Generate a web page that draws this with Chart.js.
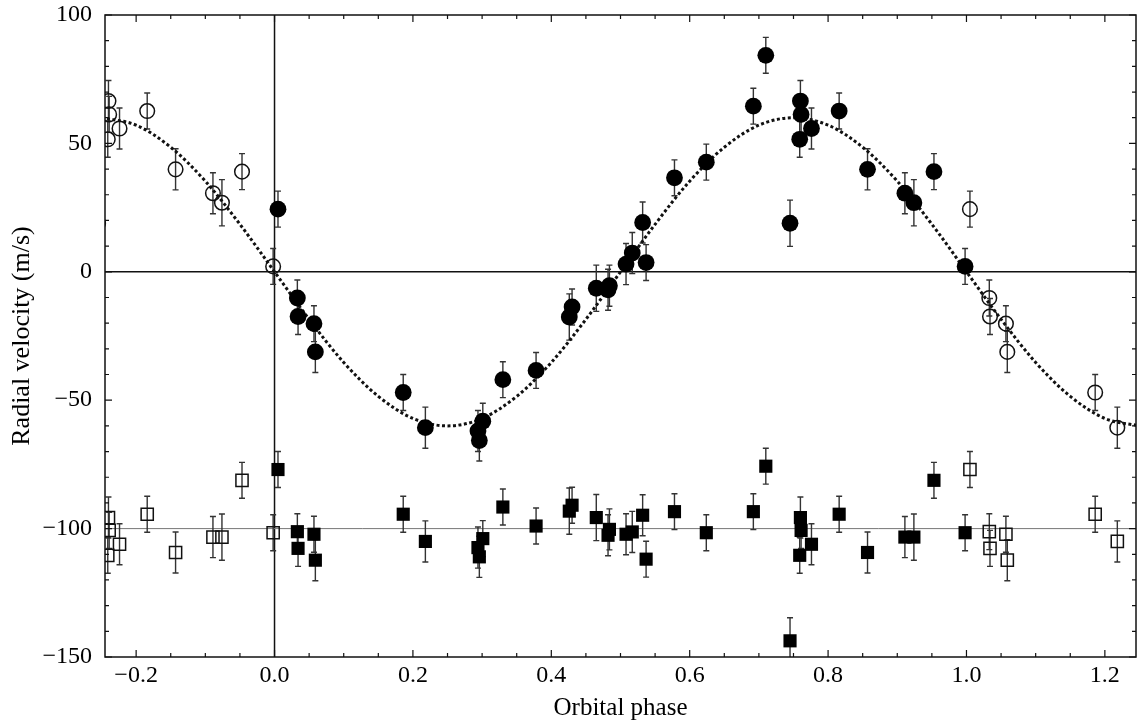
<!DOCTYPE html>
<html><head><meta charset="utf-8">
<script src="https://cdn.jsdelivr.net/npm/chart.js@4/dist/chart.umd.min.js"></script>
<style>html,body{margin:0;padding:0;background:#fff;}</style>
</head><body>
<canvas id="c" width="1139" height="724"></canvas>
<script>
// ---- data ----
const phaseFilled = [0.005, 0.033, 0.034, 0.057, 0.059, 0.186, 0.218, 0.294, 0.296, 0.301, 0.330, 0.378, 0.426, 0.430, 0.465, 0.482, 0.484, 0.508, 0.517, 0.532, 0.537, 0.578, 0.624, 0.692, 0.710, 0.745, 0.759, 0.760, 0.761, 0.776, 0.816, 0.857, 0.911, 0.924, 0.953, 0.998];
const rvFilled = [24.4, -10.2, -17.4, -20.2, -31.2, -47.0, -60.7, -62.0, -65.7, -58.2, -42.0, -38.4, -17.6, -13.7, -6.4, -7.0, -5.4, 3.0, 7.3, 19.2, 3.6, 36.6, 42.7, 64.5, 84.3, 18.9, 51.6, 66.5, 61.3, 55.8, 62.6, 39.9, 30.6, 26.9, 39.0, 2.1];
const errFilled = [7, 7, 7, 7, 8, 7, 8, 8, 8, 7, 7, 7, 9, 7, 9, 8, 8, 8, 8, 8, 7, 7, 7, 7, 7, 9, 7, 8, 7, 8, 7, 8, 8, 9, 7, 7];
const resFilled = [-77.0, -101.2, -107.7, -102.2, -112.3, -94.4, -105.0, -107.4, -111.0, -103.9, -91.6, -99.0, -93.2, -90.9, -95.7, -102.6, -100.3, -102.2, -101.3, -94.8, -111.9, -93.4, -101.6, -93.4, -75.7, -143.7, -110.4, -95.7, -100.7, -106.1, -94.4, -109.3, -103.3, -103.3, -81.2, -101.6];

const phaseOpen = [-0.255, -0.241, -0.240, -0.239, -0.224, -0.184, -0.143, -0.089, -0.076, -0.047, -0.002, 1.005, 1.033, 1.034, 1.057, 1.059, 1.186, 1.218];
const rvOpen = [18.9, 51.6, 66.5, 61.3, 55.8, 62.6, 39.9, 30.6, 26.9, 39.0, 2.1, 24.4, -10.2, -17.4, -20.2, -31.2, -47.0, -60.7];
const errOpen = [9, 7, 8, 7, 8, 7, 8, 8, 9, 7, 7, 7, 7, 7, 7, 8, 7, 8];
const resOpen = [-143.7, -110.4, -95.7, -100.7, -106.1, -94.4, -109.3, -103.3, -103.3, -81.2, -101.6, -77.0, -101.2, -107.7, -102.2, -112.3, -94.4, -105.0];

const fitPhase = [-0.25, -0.2, -0.15, -0.1, -0.05, 0, 0.05, 0.1, 0.15, 0.2, 0.25, 0.3, 0.35, 0.4, 0.45, 0.5, 0.55, 0.6, 0.65, 0.7, 0.75, 0.8, 0.85, 0.9, 0.95, 1.0, 1.05, 1.1, 1.15, 1.2, 1.25];
const fitRV = [60, 57.1, 48.5, 35.3, 18.5, 0, -18.5, -35.3, -48.5, -57.1, -60, -57.1, -48.5, -35.3, -18.5, 0, 18.5, 35.3, 48.5, 57.1, 60, 57.1, 48.5, 35.3, 18.5, 0, -18.5, -35.3, -48.5, -57.1, -60];

const xTicks = [-0.2, 0, 0.2, 0.4, 0.6, 0.8, 1.0, 1.2];
const xTickLabels = ["\u22120.2", "0.0", "0.2", "0.4", "0.6", "0.8", "1.0", "1.2"];
const yTicks = [-150, -100, -50, 0, 50, 100];
const yTickLabels = ["\u2212150", "\u2212100", "\u221250", "0", "50", "100"];
const refLevels = [0, -100];

// ---- helpers ----
const pts = (xs, ys) => xs.map((v, i) => ({x: v, y: ys[i]}));
const FAM = "'Liberation Serif', 'DejaVu Serif', serif";
const FONT = {family: FAM, size: 24};

const errSets = [
  {xs: phaseFilled, ys: rvFilled, es: errFilled},
  {xs: phaseFilled, ys: resFilled, es: errFilled},
  {xs: phaseOpen, ys: rvOpen, es: errOpen},
  {xs: phaseOpen, ys: resOpen, es: errOpen}
];

const decor = {
  id: 'decor',
  beforeDatasetsDraw(chart) {
    const {ctx, chartArea: a, scales: {x, y}} = chart;
    ctx.save();
    ctx.beginPath();
    ctx.rect(a.left, a.top, a.right - a.left, a.bottom - a.top);
    ctx.clip();
    const x0 = x.getPixelForValue(0);
    ctx.strokeStyle = '#111'; ctx.lineWidth = 1.5;
    ctx.beginPath(); ctx.moveTo(x0, a.top); ctx.lineTo(x0, a.bottom); ctx.stroke();
    const y0 = y.getPixelForValue(refLevels[0]);
    ctx.beginPath(); ctx.moveTo(a.left, y0); ctx.lineTo(a.right, y0); ctx.stroke();
    const y1 = y.getPixelForValue(refLevels[1]);
    ctx.strokeStyle = '#777'; ctx.lineWidth = 1;
    ctx.beginPath(); ctx.moveTo(a.left, y1); ctx.lineTo(a.right, y1); ctx.stroke();
    ctx.strokeStyle = '#333'; ctx.lineWidth = 1.4;
    errSets.forEach(s => {
      s.xs.forEach((xv, i) => {
        const px = x.getPixelForValue(xv);
        const pt = y.getPixelForValue(s.ys[i] + s.es[i]);
        const pb = y.getPixelForValue(s.ys[i] - s.es[i]);
        ctx.beginPath();
        ctx.moveTo(px, pt); ctx.lineTo(px, pb);
        ctx.moveTo(px - 3, pt); ctx.lineTo(px + 3, pt);
        ctx.moveTo(px - 3, pb); ctx.lineTo(px + 3, pb);
        ctx.stroke();
      });
    });
    ctx.restore();
  },
  afterDraw(chart) {
    const {ctx, chartArea: a, scales: {x, y}} = chart;
    ctx.save();
    ctx.strokeStyle = '#111'; ctx.lineWidth = 1.5;
    ctx.strokeRect(a.left, a.top, a.right - a.left, a.bottom - a.top);
    ctx.lineWidth = 1.2;
    ctx.beginPath();
    for (let k = -4; k <= 24; k++) {
      const v = k * 0.05;
      if (v < x.min || v > x.max) continue;
      const len = (k % 4 === 0) ? 7 : 4;
      const px = x.getPixelForValue(v);
      ctx.moveTo(px, a.bottom); ctx.lineTo(px, a.bottom - len);
      ctx.moveTo(px, a.top); ctx.lineTo(px, a.top + len);
    }
    for (let v = -150; v <= 100; v += 10) {
      const len = (v % 50 === 0) ? 7 : 4;
      const py = y.getPixelForValue(v);
      ctx.moveTo(a.left, py); ctx.lineTo(a.left + len, py);
      ctx.moveTo(a.right, py); ctx.lineTo(a.right - len, py);
    }
    ctx.stroke();
    ctx.restore();
  }
};

new Chart(document.getElementById('c'), {
  type: 'scatter',
  data: {
    datasets: [
      {label: 'data', data: pts(phaseFilled, rvFilled), pointStyle: 'circle', pointRadius: 8.4,
       pointBackgroundColor: '#000', pointBorderColor: '#000', pointBorderWidth: 0, clip: 0},
      {label: 'copies', data: pts(phaseOpen, rvOpen), pointStyle: 'circle', pointRadius: 7.3,
       pointBackgroundColor: 'rgba(0,0,0,0)', pointBorderColor: '#111', pointBorderWidth: 1.5, clip: 0},
      {label: 'residuals', data: pts(phaseFilled, resFilled), pointStyle: 'rect', pointRadius: 9.3,
       pointBackgroundColor: '#000', pointBorderColor: '#000', pointBorderWidth: 0, clip: 0},
      {label: 'residual copies', data: pts(phaseOpen, resOpen), pointStyle: 'rect', pointRadius: 8.6,
       pointBackgroundColor: 'rgba(0,0,0,0)', pointBorderColor: '#111', pointBorderWidth: 1.5, clip: 0},
      {label: 'fit', data: pts(fitPhase, fitRV), showLine: true, pointRadius: 0, borderColor: '#111',
       borderWidth: 3, borderDash: [3, 2.5], cubicInterpolationMode: 'monotone', fill: false, clip: 0}
    ]
  },
  options: {
    responsive: false,
    animation: false,
    events: [],
    layout: {autoPadding: false, padding: {top: 15, right: 3, left: 0, bottom: 0}},
    plugins: {legend: {display: false}, tooltip: {enabled: false}},
    scales: {
      x: {
        type: 'linear', min: -0.245, max: 1.245,
        afterBuildTicks: s => { s.ticks = xTicks.map(v => ({value: v})); },
        afterFit: s => { s.height = 67; s.paddingLeft = 0; s.paddingRight = 0; },
        grid: {display: false}, border: {display: false},
        ticks: {callback: (v, i) => xTickLabels[i], font: FONT, color: '#000', padding: -4, maxRotation: 0, autoSkip: false},
        title: {display: true, text: 'Orbital phase', font: {family: FAM, size: 25}, color: '#000', padding: {top: 0, bottom: 1}}
      },
      y: {
        type: 'linear', min: -150, max: 100,
        afterBuildTicks: s => { s.ticks = yTicks.map(v => ({value: v})); },
        afterFit: s => { s.width = 105; s.paddingTop = 0; s.paddingBottom = 0; },
        grid: {display: false}, border: {display: false},
        ticks: {callback: (v, i) => yTickLabels[i], font: FONT, color: '#000', padding: 5, autoSkip: false},
        title: {display: true, text: 'Radial velocity (m/s)', font: {family: FAM, size: 26}, color: '#000', padding: {top: 7, bottom: 0}}
      }
    }
  },
  plugins: [decor]
});
</script>
</body></html>
